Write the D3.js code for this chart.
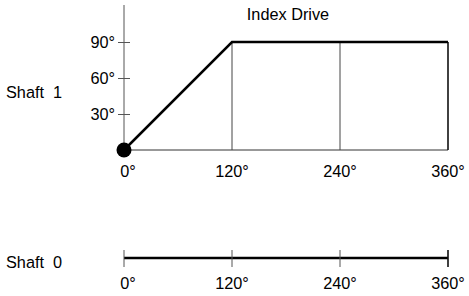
<!DOCTYPE html>
<html>
<head>
<meta charset="utf-8">
<script src="https://cdn.jsdelivr.net/npm/d3@7"></script>
<style>
  body { margin: 0; background: #fff; }
  text { font-family: "Liberation Sans", Arial, sans-serif; font-size: 16.3px; fill: #000; white-space: pre; }
</style>
</head>
<body>
<script>
const width = 469;
const height = 296;

// Shaft 1 motion profile (input angle -> output angle)
const inputAngles = [0, 120, 240, 360];
const outputAngles = [0, 90, 90, 90];
const yTicks = [30, 60, 90];
const xTicks = [0, 120, 240, 360];
const title = "Index Drive";
const shaftLabels = ["Shaft  1", "Shaft  0"];

const svg = d3.select("body").append("svg")
  .attr("width", width)
  .attr("height", height);

const x = d3.scaleLinear().domain([0, 360]).range([124, 448]);
const y = d3.scaleLinear().domain([0, 120]).range([150, 6]);

const fmt = d => d + "°";

// Title
svg.append("text")
  .attr("x", 288).attr("y", 20)
  .attr("text-anchor", "middle")
  .text(title);

// Shaft 1 -------------------------------------------------
svg.append("text")
  .attr("x", 6).attr("y", 98)
  .text(shaftLabels[0]);

// y axis
const yAxis = svg.append("g")
  .attr("transform", `translate(${x(0)},0)`)
  .call(d3.axisLeft(y).tickValues(yTicks).tickFormat(fmt).tickSize(6).tickPadding(3));
yAxis.select(".domain").remove();
yAxis.selectAll(".tick line").attr("x1", -6).attr("x2", 6).attr("stroke", "#555");
yAxis.selectAll(".tick text")
  .attr("font-family", null).attr("font-size", null)
  .attr("dy", "0.36em");
svg.append("line")
  .attr("x1", x(0)).attr("x2", x(0))
  .attr("y1", 5).attr("y2", y(0))
  .attr("stroke", "#555");

// baseline
svg.append("line")
  .attr("x1", x(0)).attr("x2", x(360))
  .attr("y1", y(0)).attr("y2", y(0))
  .attr("stroke", "#333");

// vertical drop lines
svg.append("g").selectAll("line")
  .data(inputAngles.slice(1))
  .join("line")
  .attr("x1", d => x(d)).attr("x2", d => x(d))
  .attr("y1", y(90)).attr("y2", y(0))
  .attr("stroke", d => d === 360 ? "#111" : "#444")
  .attr("stroke-width", d => d === 360 ? 1.6 : 1);

// x tick labels
svg.append("g").selectAll("text")
  .data(xTicks)
  .join("text")
  .attr("x", d => x(d) + (d === 0 ? 4 : 0))
  .attr("y", 177)
  .attr("text-anchor", "middle")
  .text(fmt);

// motion profile
const line = d3.line().x((d, i) => x(inputAngles[i])).y(d => y(d));
svg.append("path")
  .attr("d", line(outputAngles))
  .attr("fill", "none")
  .attr("stroke", "#000")
  .attr("stroke-width", 2.5);

svg.append("circle")
  .attr("cx", x(0)).attr("cy", y(0))
  .attr("r", 7.5)
  .attr("fill", "#000");

// Shaft 0 -------------------------------------------------
const y0 = 258;
svg.append("text")
  .attr("x", 6).attr("y", y0 + 10)
  .text(shaftLabels[1]);

svg.append("line")
  .attr("x1", x(0)).attr("x2", x(360))
  .attr("y1", y0).attr("y2", y0)
  .attr("stroke", "#000")
  .attr("stroke-width", 2.5);

svg.append("g").selectAll("line")
  .data(xTicks)
  .join("line")
  .attr("x1", d => x(d)).attr("x2", d => x(d))
  .attr("y1", y0 - 8).attr("y2", y0 + 9)
  .attr("stroke", d => d === 360 ? "#111" : "#555")
  .attr("stroke-width", d => d === 360 ? 1.6 : 1);

svg.append("g").selectAll("text")
  .data(xTicks)
  .join("text")
  .attr("x", d => x(d) + (d === 0 ? 4 : 0))
  .attr("y", 289)
  .attr("text-anchor", "middle")
  .text(fmt);
</script>
</body>
</html>
